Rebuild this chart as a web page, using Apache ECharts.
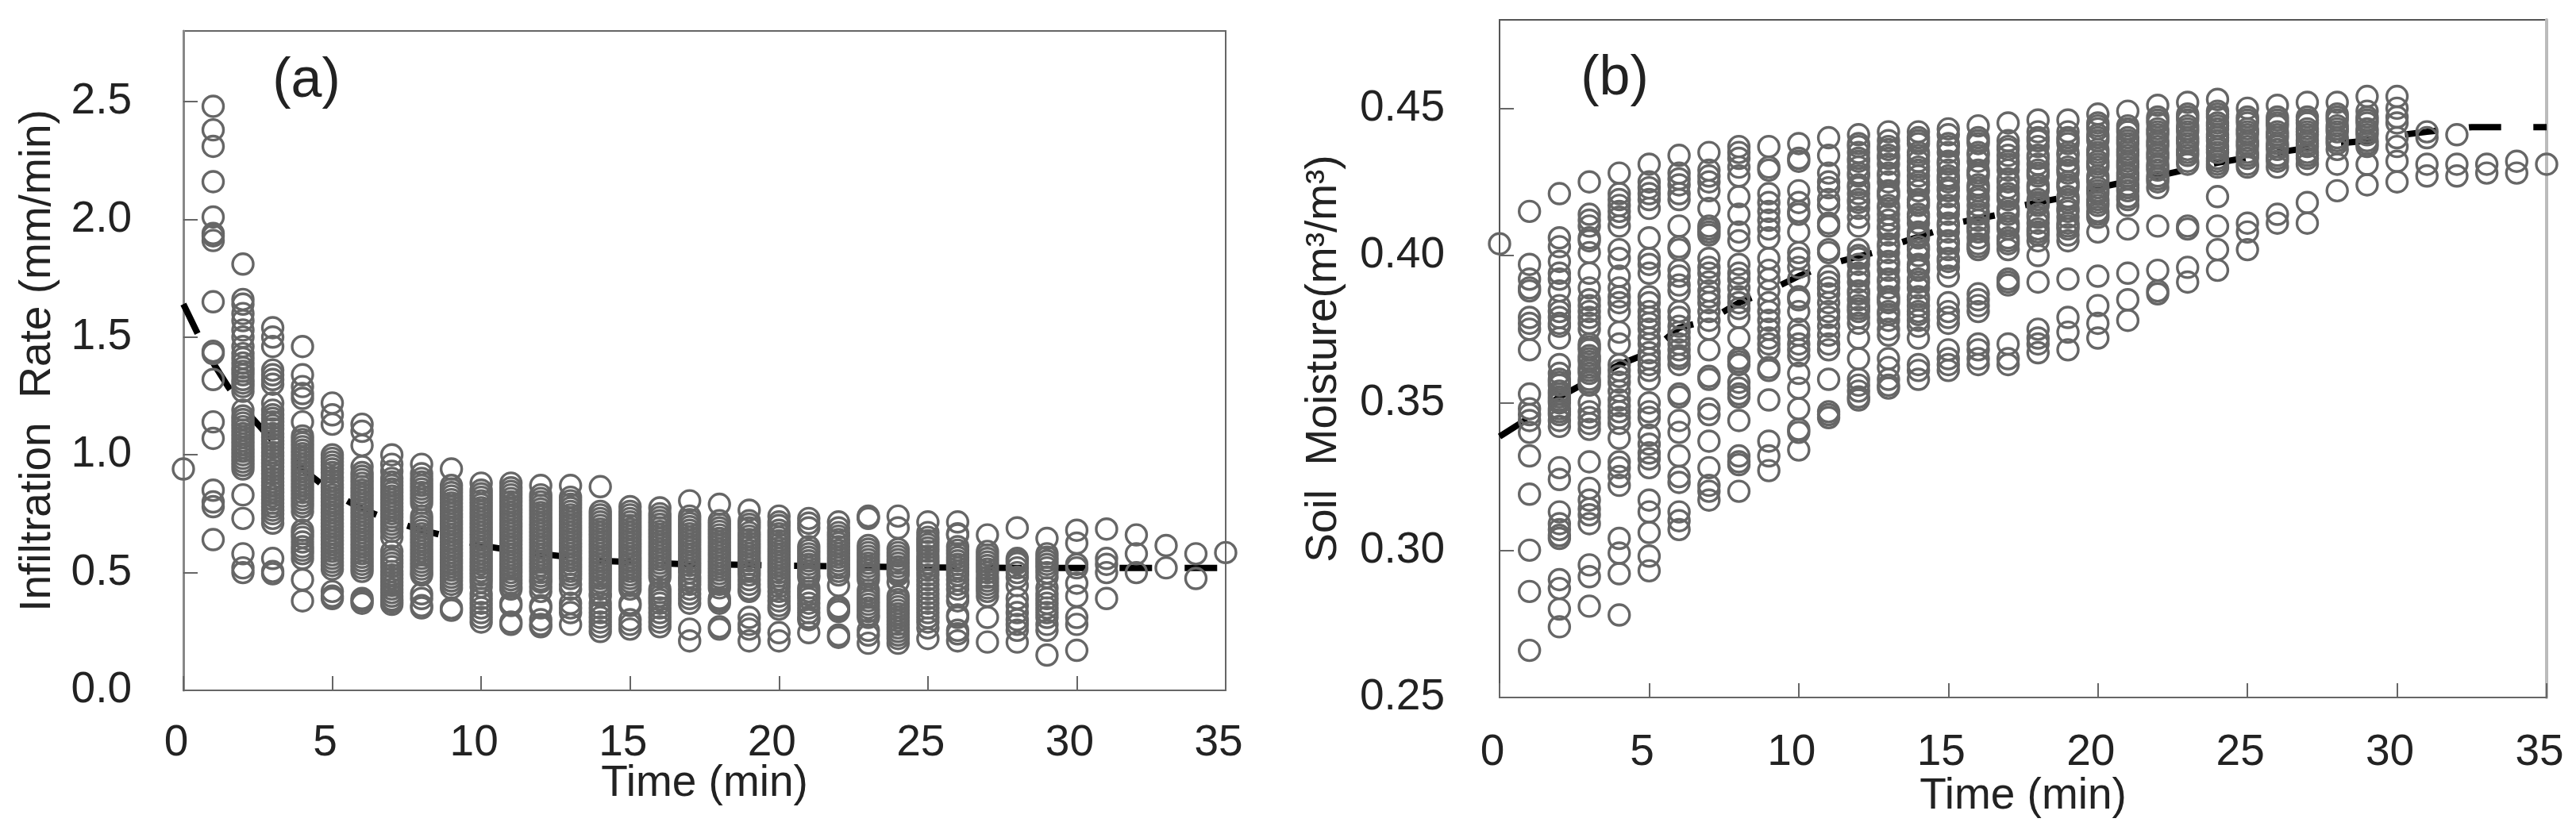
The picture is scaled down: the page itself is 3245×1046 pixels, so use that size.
<!DOCTYPE html>
<html>
<head>
<meta charset="utf-8">
<style>html,body{margin:0;padding:0;background:#fff}#c{width:3245px;height:1046px}</style>
<script src="https://cdn.jsdelivr.net/npm/echarts@6/dist/echarts.min.js"></script>
</head>
<body>
<div id="c"></div>
<script>
const timeTicks = [0,5,10,15,20,25,30,35];
const rateTicks = [0,0.5,1,1.5,2,2.5];
const moistureTicks = [0.25,0.30,0.35,0.40,0.45];

// Observed infiltration rate per minute (index = minute)
const rateByMinute = [
[.94],
[2.48,2.38,2.31,2.16,2.01,1.94,1.93,1.91,1.65,1.44,1.43,1.32,1.14,1.07,.85,.80,.78,.64],
[1.81,1.66,1.64,1.60,1.57,1.53,1.50,1.46,1.43,1.41,1.39,1.37,1.355,1.34,1.32,1.305,1.29,1.27,1.19,1.165,1.15,1.135,1.12,1.105,1.09,1.075,1.06,1.045,1.03,1.015,1.00,.985,.97,.955,.94,.83,.73,.58,.52,.50],
[1.54,1.50,1.46,1.36,1.34,1.32,1.30,1.22,1.19,1.17,1.155,1.14,1.125,1.11,1.09,1.075,1.06,1.045,1.03,1.01,.995,.98,.965,.95,.935,.92,.90,.885,.87,.855,.84,.825,.81,.795,.78,.765,.75,.73,.71,.56,.505,.495],
[1.46,1.34,1.29,1.26,1.24,1.14,1.08,1.065,1.05,1.035,1.02,1.005,.99,.975,.96,.945,.93,.915,.90,.885,.87,.855,.84,.825,.81,.795,.78,.76,.68,.665,.65,.63,.61,.595,.58,.56,.47,.38],
[1.22,1.17,1.13,1.00,.985,.97,.955,.94,.925,.905,.89,.875,.86,.845,.83,.815,.80,.785,.77,.755,.74,.725,.71,.695,.68,.665,.65,.635,.62,.605,.59,.575,.56,.545,.53,.515,.42,.40,.39],
[1.13,1.10,1.04,.95,.925,.91,.895,.88,.865,.85,.835,.82,.805,.79,.775,.76,.745,.73,.715,.70,.685,.67,.655,.64,.625,.61,.595,.58,.565,.55,.535,.52,.505,.39,.38,.37],
[1.00,.96,.93,.90,.885,.87,.855,.84,.825,.81,.795,.78,.765,.75,.735,.72,.705,.69,.675,.65,.59,.57,.555,.54,.525,.505,.49,.475,.46,.445,.43,.415,.40,.385,.375,.365],
[.96,.92,.90,.885,.87,.855,.84,.825,.81,.795,.74,.725,.71,.695,.68,.665,.65,.635,.62,.605,.59,.575,.56,.545,.53,.515,.50,.49,.41,.39,.36,.35],
[.94,.87,.855,.84,.825,.81,.795,.78,.765,.75,.735,.72,.705,.69,.675,.66,.645,.63,.615,.60,.585,.57,.555,.54,.525,.51,.495,.48,.465,.45,.435,.35,.34],
[.88,.85,.835,.82,.805,.79,.775,.76,.745,.73,.715,.70,.685,.67,.655,.64,.625,.61,.595,.58,.565,.55,.535,.52,.505,.49,.475,.46,.44,.41,.39,.37,.35,.33,.31,.29],
[.88,.86,.845,.83,.815,.80,.785,.77,.755,.74,.725,.71,.695,.68,.665,.65,.635,.62,.605,.59,.575,.56,.545,.53,.515,.50,.485,.47,.455,.44,.43,.37,.36,.29,.28],
[.87,.83,.815,.80,.785,.77,.755,.74,.725,.71,.695,.68,.665,.65,.635,.62,.605,.59,.575,.56,.545,.53,.515,.50,.485,.47,.46,.44,.42,.36,.35,.30,.28,.27],
[.87,.82,.805,.79,.775,.76,.745,.73,.715,.70,.685,.67,.655,.64,.625,.61,.595,.58,.565,.55,.535,.52,.505,.49,.475,.45,.43,.37,.35,.33,.28],
[.865,.76,.745,.73,.715,.70,.685,.67,.655,.64,.625,.61,.595,.58,.565,.55,.535,.52,.505,.49,.475,.46,.445,.43,.41,.40,.37,.35,.33,.31,.29,.27,.25],
[.78,.76,.745,.73,.715,.70,.685,.67,.655,.64,.625,.61,.595,.58,.565,.55,.535,.52,.505,.49,.475,.46,.445,.43,.37,.36,.30,.28,.26],
[.775,.75,.735,.72,.705,.69,.675,.66,.645,.63,.615,.60,.585,.57,.555,.54,.525,.51,.495,.48,.43,.415,.40,.385,.37,.35,.33,.31,.29,.27],
[.805,.74,.725,.71,.695,.68,.665,.65,.635,.62,.605,.59,.575,.56,.545,.53,.515,.50,.48,.465,.45,.43,.41,.39,.37,.26,.21],
[.79,.72,.705,.69,.675,.66,.645,.63,.615,.60,.585,.57,.555,.54,.525,.51,.495,.48,.465,.45,.435,.39,.38,.37,.27,.26],
[.765,.72,.705,.69,.67,.655,.64,.625,.61,.595,.58,.565,.55,.535,.52,.505,.49,.47,.45,.43,.42,.31,.28,.26,.21],
[.74,.715,.70,.68,.665,.65,.635,.62,.605,.59,.575,.56,.545,.53,.515,.50,.485,.47,.455,.44,.42,.40,.38,.36,.345,.245,.21],
[.73,.71,.69,.61,.595,.58,.565,.55,.535,.52,.505,.49,.48,.435,.42,.405,.39,.37,.35,.33,.31,.30,.245],
[.715,.69,.67,.655,.64,.625,.61,.595,.58,.565,.55,.535,.52,.505,.49,.445,.355,.345,.335,.235,.225],
[.74,.735,.73,.615,.60,.585,.57,.555,.54,.525,.51,.495,.485,.47,.425,.41,.395,.38,.365,.35,.335,.32,.31,.255,.235,.20],
[.74,.69,.60,.585,.57,.555,.54,.525,.51,.50,.49,.46,.40,.385,.37,.355,.34,.325,.31,.295,.28,.265,.25,.235,.22,.20],
[.715,.67,.65,.635,.62,.605,.59,.57,.555,.54,.525,.51,.49,.47,.45,.43,.41,.39,.37,.35,.33,.31,.29,.265,.22],
[.715,.665,.66,.61,.595,.58,.565,.55,.535,.52,.505,.49,.47,.45,.43,.40,.38,.32,.31,.255,.24,.21],
[.66,.59,.575,.56,.545,.53,.515,.50,.48,.465,.45,.435,.42,.40,.31,.205],
[.69,.56,.55,.54,.52,.50,.48,.445,.39,.36,.33,.30,.28,.255,.205],
[.645,.58,.565,.55,.535,.52,.50,.48,.435,.41,.39,.37,.35,.33,.31,.28,.255,.15],
[.68,.625,.535,.52,.455,.40,.31,.28,.17],
[.685,.56,.535,.50,.39],
[.66,.58,.50],
[.615,.52],
[.58,.475],
[.585]
];

// Observed soil moisture per minute (index = minute)
const moistureByMinute = [
[.404],
[.415,.397,.392,.389,.388,.379,.377,.375,.368,.353,.348,.346,.344,.340,.332,.319,.300,.286,.266],
[.421,.406,.403,.398,.394,.392,.388,.383,.381,.379,.377,.376,.372,.363,.360,.358,.357,.356,.354,.353,.352,.351,.350,.348,.347,.346,.344,.342,.328,.324,.313,.309,.307,.305,.304,.290,.287,.280,.274],
[.425,.414,.412,.410,.406,.405,.401,.394,.389,.385,.383,.381,.379,.377,.375,.370,.369,.368,.366,.365,.364,.362,.361,.360,.358,.357,.356,.350,.347,.345,.343,.341,.330,.321,.317,.314,.312,.309,.295,.291,.281],
[.428,.421,.419,.417,.415,.413,.410,.402,.399,.393,.389,.386,.384,.381,.374,.370,.363,.361,.359,.357,.354,.351,.349,.347,.345,.343,.338,.330,.328,.325,.322,.304,.299,.292,.278],
[.431,.425,.423,.421,.419,.416,.406,.399,.397,.394,.386,.384,.381,.379,.377,.375,.372,.370,.367,.365,.363,.361,.358,.350,.347,.345,.339,.336,.333,.331,.328,.317,.313,.306,.298,.293],
[.434,.428,.426,.424,.421,.419,.410,.403,.402,.395,.393,.390,.388,.381,.379,.376,.374,.372,.370,.368,.366,.365,.363,.353,.352,.344,.340,.332,.325,.323,.313,.310,.307],
[.435,.429,.427,.425,.422,.416,.410,.409,.408,.407,.399,.396,.394,.391,.388,.386,.384,.381,.378,.375,.368,.359,.358,.348,.346,.337,.328,.322,.320,.317],
[.437,.435,.433,.430,.427,.420,.414,.408,.405,.397,.394,.392,.389,.386,.384,.382,.379,.372,.365,.364,.363,.357,.355,.353,.352,.344,.332,.330,.329,.320],
[.437,.430,.429,.421,.418,.415,.412,.409,.406,.399,.395,.392,.388,.384,.381,.378,.375,.372,.370,.368,.362,.361,.351,.337,.332,.327],
[.438,.433,.432,.422,.418,.415,.414,.408,.401,.399,.396,.392,.386,.385,.381,.375,.373,.370,.368,.366,.360,.355,.348,.341,.340,.334],
[.440,.434,.428,.425,.423,.419,.417,.411,.410,.402,.401,.393,.391,.389,.387,.384,.381,.379,.376,.373,.370,.368,.358,.347,.346,.345],
[.441,.438,.437,.435,.433,.432,.430,.428,.427,.424,.423,.421,.419,.418,.416,.413,.410,.402,.400,.399,.397,.394,.393,.391,.388,.387,.385,.383,.382,.381,.379,.377,.372,.365,.358,.356,.354,.352,.351],
[.442,.439,.437,.436,.434,.433,.431,.428,.427,.425,.422,.421,.420,.417,.416,.414,.412,.410,.409,.407,.404,.403,.401,.398,.397,.395,.392,.391,.389,.386,.385,.384,.381,.380,.378,.375,.373,.365,.362,.358,.356,.355],
[.442,.440,.439,.438,.435,.434,.432,.430,.429,.427,.425,.424,.422,.419,.418,.417,.414,.413,.411,.408,.407,.406,.403,.402,.400,.397,.396,.395,.392,.391,.389,.386,.385,.383,.381,.380,.378,.376,.372,.363,.361,.358],
[.443,.441,.438,.437,.435,.432,.431,.429,.427,.426,.425,.423,.422,.420,.417,.416,.414,.411,.410,.408,.405,.404,.402,.399,.398,.396,.393,.384,.381,.379,.377,.368,.365,.363,.361],
[.444,.440,.439,.438,.435,.434,.432,.429,.428,.427,.424,.423,.422,.420,.419,.417,.415,.414,.412,.410,.409,.408,.406,.404,.403,.402,.387,.385,.383,.381,.370,.368,.365,.363],
[.445,.439,.437,.436,.434,.432,.431,.429,.426,.425,.423,.421,.420,.419,.416,.415,.414,.411,.410,.409,.406,.405,.404,.402,.392,.391,.390,.370,.365,.363],
[.446,.442,.440,.439,.437,.434,.433,.431,.429,.428,.427,.424,.423,.422,.419,.418,.417,.414,.413,.411,.409,.408,.407,.405,.400,.391,.375,.372,.370,.367],
[.446,.442,.440,.439,.438,.435,.434,.432,.430,.429,.428,.425,.424,.423,.420,.419,.418,.416,.415,.413,.411,.410,.409,.407,.405,.392,.379,.374,.368],
[.448,.445,.444,.443,.441,.440,.439,.436,.435,.434,.432,.431,.430,.427,.426,.425,.423,.422,.421,.419,.418,.417,.415,.414,.413,.408,.393,.383,.377,.372],
[.449,.444,.443,.442,.440,.439,.438,.436,.435,.434,.432,.431,.430,.428,.427,.426,.424,.423,.422,.420,.419,.417,.409,.394,.385,.378],
[.451,.447,.446,.445,.443,.442,.441,.439,.438,.437,.435,.434,.433,.431,.430,.429,.427,.426,.425,.423,.410,.395,.388,.387],
[.452,.448,.447,.446,.444,.443,.442,.440,.439,.438,.436,.435,.434,.432,.431,.410,.409,.396,.391],
[.453,.449,.448,.447,.445,.444,.443,.441,.440,.439,.437,.436,.435,.433,.432,.431,.430,.420,.410,.402,.395],
[.450,.447,.446,.445,.443,.442,.441,.439,.438,.437,.435,.434,.433,.431,.430,.411,.408,.402],
[.451,.447,.446,.445,.444,.442,.441,.440,.438,.437,.436,.434,.433,.432,.430,.414,.411],
[.452,.447,.446,.445,.443,.442,.441,.439,.438,.437,.435,.434,.433,.431,.418,.411],
[.452,.448,.447,.446,.444,.443,.442,.440,.439,.438,.436,.431,.422],
[.454,.449,.447,.446,.445,.443,.442,.441,.439,.438,.437,.431,.424],
[.454,.450,.447,.445,.440,.437,.432,.425],
[.442,.440,.431,.427],
[.441,.431,.427],
[.431,.428],
[.432,.428],
[.431]
];

const rateCurveTime = [0,.5,1,1.5,2,3,4,5,6,7,8,9,10,11,12,13,14,15,16,17,18,20,22,25,28,30,32,35];
const rateCurve = [1.64,1.51,1.39,1.29,1.2,1.06,.94,.84,.77,.72,.68,.65,.615,.595,.58,.565,.55,.545,.54,.535,.535,.53,.527,.522,.52,.52,.52,.52];
const moistureCurveTime = [0,1,2,3,4,5,6,7,8,9,10,11,12.5,13,14.5,15,17,17.5,19,20,21.4,22,24,26,28,29,30.2,31,32.5,35];
const moistureCurve = [.3386,.345,.352,.3575,.363,.367,.3755,.378,.384,.388,.393,.397,.401,.403,.408,.4105,.4145,.417,.420,.423,.426,.427,.4315,.435,.438,.439,.441,.442,.4436,.4436];

const FONT = '"Liberation Sans", Arial, sans-serif';
const INK = '#222';
const FRAME = '#666';

function points(cols){ const out=[]; cols.forEach((c,t)=>c.forEach(v=>out.push([t,v]))); return out; }
function pair(ts,vs){ return ts.map((t,i)=>[t,vs[i]]); }

function xAxis(gridIndex, margin, nameGap){
  return {
    type:'value', gridIndex, min:0, max:35,
    name:'Time (min)', nameLocation:'middle', nameGap, nameMoveOverlap:false,
    nameTextStyle:{fontFamily:FONT,fontSize:55,color:INK},
    splitLine:{show:false},
    axisLine:{show:true,onZero:false,lineStyle:{color:FRAME,width:2}},
    axisTick:{show:true,inside:true,length:18,lineStyle:{color:FRAME,width:2},customValues:timeTicks},
    axisLabel:{show:true,margin,fontFamily:FONT,fontSize:55,color:INK,padding:[0,18,0,0],customValues:timeTicks,hideOverlap:false}
  };
}
function yAxis(gridIndex, min, max, ticks, digits, name, margin, nameGap, lineColor, lineWidth){
  return {
    type:'value', gridIndex, min, max,
    name, nameLocation:'middle', nameRotate:90, nameGap, nameMoveOverlap:false,
    nameTextStyle:{fontFamily:FONT,fontSize:55,color:INK},
    splitLine:{show:false},
    axisLine:{show:true,onZero:false,lineStyle:{color:lineColor,width:lineWidth}},
    axisTick:{show:true,inside:true,length:18,lineStyle:{color:FRAME,width:2},customValues:ticks},
    axisLabel:{show:true,margin,fontFamily:FONT,fontSize:55,color:INK,customValues:ticks,hideOverlap:false,
      formatter:v=>v.toFixed(digits)}
  };
}
function rightEdge(gridIndex, min, max){
  return {type:'value',gridIndex,min,max,position:'right',
    splitLine:{show:false},axisTick:{show:false},axisLabel:{show:false},
    axisLine:{show:true,onZero:false,lineStyle:{color:'#bbb',width:4}}};
}
function scatter(i,cols){
  return {type:'scatter',xAxisIndex:i,yAxisIndex:i,data:points(cols),symbol:'circle',symbolSize:26,clip:false,silent:true,z:3,
    itemStyle:{color:'rgba(0,0,0,0)',borderColor:'#666',borderWidth:3.4,opacity:1},emphasis:{disabled:true}};
}
function curve(i,ts,vs,dash){
  return {type:'line',xAxisIndex:i,yAxisIndex:i,data:pair(ts,vs),showSymbol:false,smooth:false,clip:false,silent:true,z:2,
    lineStyle:{color:'#000',width:8,type:dash}};
}

const chart = echarts.init(document.getElementById('c'));
chart.setOption({
  animation:false,
  backgroundColor:'#fff',
  grid:[
    {left:231,top:39,width:1313,height:831,show:true,borderColor:FRAME,borderWidth:2,backgroundColor:'transparent',containLabel:false},
    {left:1889,top:25,width:1319,height:854,show:true,borderColor:'#555',borderWidth:2,backgroundColor:'transparent',containLabel:false}
  ],
  xAxis:[xAxis(0,39,90),xAxis(1,42,97)],
  yAxis:[
    yAxis(0,0,2.8,rateTicks,1,'Infiltration  Rate (mm/min)',65,156,'#888',3),
    yAxis(1,0.25,0.48,moistureTicks,2,'Soil  Moisture(m³/m³)',69,194,'#555',2),
    rightEdge(1,0.25,0.48)
  ],
  series:[curve(0,rateCurveTime,rateCurve,[41,41]),scatter(0,rateByMinute),curve(1,moistureCurveTime,moistureCurve,[40.6,40.6]),scatter(1,moistureByMinute)],
  graphic:[
    {type:'text',x:386,y:103,style:{text:'(a)',font:'70px '+FONT,fill:INK,textAlign:'center',textVerticalAlign:'middle'},silent:true},
    {type:'text',x:2034,y:100,style:{text:'(b)',font:'70px '+FONT,fill:INK,textAlign:'center',textVerticalAlign:'middle'},silent:true}
  ]
});
</script>
</body>
</html>
